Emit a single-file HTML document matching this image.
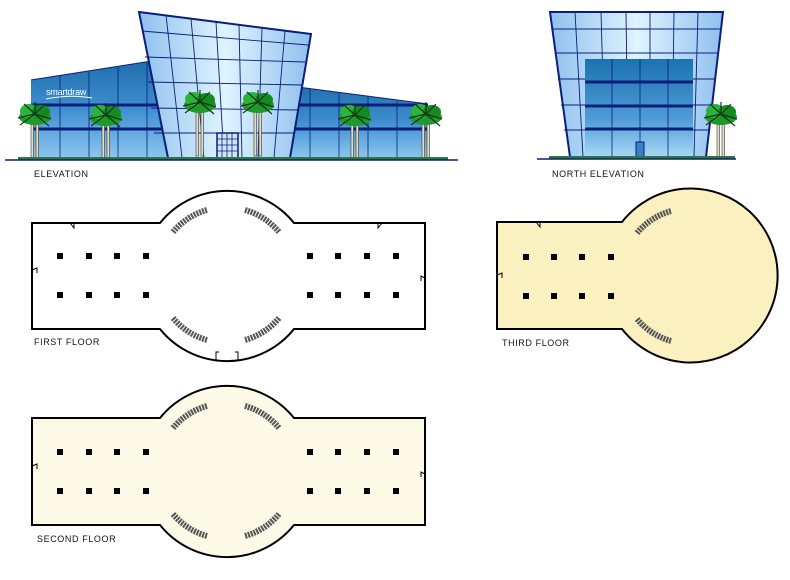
<!DOCTYPE html>
<html><head><meta charset="utf-8"><style>
html,body{margin:0;padding:0;background:#fff;}
svg{display:block;}
text{font-family:"Liberation Sans",sans-serif;font-size:9px;letter-spacing:0.6px;fill:#111;}
</style></head><body>
<svg width="790" height="580" viewBox="0 0 790 580" xmlns="http://www.w3.org/2000/svg">
<defs>
<linearGradient id="wing" x1="0" y1="0" x2="0" y2="1">
<stop offset="0" stop-color="#1f6fae"/><stop offset="0.5" stop-color="#3f8fd0"/><stop offset="1" stop-color="#8cc6f0"/></linearGradient>
<linearGradient id="tower" x1="0" y1="0" x2="1" y2="0">
<stop offset="0" stop-color="#8fc0ee"/><stop offset="0.5" stop-color="#dff4ff"/><stop offset="1" stop-color="#8fc0ee"/></linearGradient>
<linearGradient id="inner" x1="0" y1="0" x2="0" y2="1">
<stop offset="0" stop-color="#1a72b0"/><stop offset="0.6" stop-color="#4d9bd6"/><stop offset="1" stop-color="#a8d8f5"/></linearGradient>
<g id="crown">
<ellipse cx="0" cy="-3" rx="16" ry="8" fill="#1f9a2a"/>
<ellipse cx="-6" cy="-9" rx="9" ry="7" fill="#2bb43a"/>
<ellipse cx="6" cy="-8" rx="9" ry="7" fill="#158a20"/>
<path d="M0 -6 L-17 -2 M0 -6 L16 -1 M0 -6 L-11 -16 M0 -6 L10 -16 M0 -6 L0 -18 M0 -6 L-15 5 M0 -6 L14 6" stroke="#17371b" stroke-width="1.2"/>
</g>
<g id="palm">
<rect x="-4" y="0" width="2.5" height="48" fill="#e8dcc0" stroke="#333" stroke-width="0.6"/>
<rect x="1" y="2" width="2.5" height="46" fill="#e8dcc0" stroke="#333" stroke-width="0.6"/>
<use href="#crown"/>
</g>
<g id="palmS">
<rect x="-4" y="0" width="2.5" height="38" fill="#e8dcc0" stroke="#333" stroke-width="0.6"/>
<rect x="1" y="2" width="2.5" height="36" fill="#e8dcc0" stroke="#333" stroke-width="0.6"/>
<use href="#crown"/>
</g>
</defs>

<!-- ELEVATION -->
<polygon points="31,80 152,61 170,158 31,158" fill="url(#wing)"/>
<polygon points="290,86 428,104 428,158 290,158" fill="url(#wing)"/>
<g stroke="#0a1e7a" stroke-width="1">
<line x1="31" y1="80" x2="152" y2="61"/><line x1="290" y1="86" x2="428" y2="104"/>
<line x1="31" y1="105" x2="165" y2="105" stroke-width="3"/><line x1="31" y1="129" x2="168" y2="129" stroke-width="3"/>
<line x1="290" y1="105" x2="428" y2="105" stroke-width="3"/><line x1="290" y1="129" x2="428" y2="129" stroke-width="3"/>
<path d="M60 76V158M89 72V158M118 67V158M147 62V158M310 89V158M339 93V158M368 97V158M397 101V158" stroke-width="0.8"/>
</g>
<text x="46" y="95" style="font-size:9px;fill:#fff;letter-spacing:-0.2px">smartdraw</text>
<path d="M46 99 Q70 94 92 98" stroke="#fff" fill="none" stroke-width="1"/>
<polygon points="139,12 311,34 290,158 168,158" fill="url(#tower)" stroke="#0a1e7a" stroke-width="2"/>
<g stroke="#0a1e7a" stroke-width="0.9" fill="none">
<path d="M142 31L308 45M145 57L305 62M148 82L302 85M151 108L299 110M154 133L295 133"/>
<path d="M166 15L182 158M191 19L204 158M216 22L224 158M239 25L242 158M262 28L258 158M285 31L274 158"/>
</g>
<rect x="217" y="133" width="21" height="25" fill="#cfe6fa" stroke="#0a1e7a" stroke-width="1.5"/>
<path d="M217 139h21M217 145h21M217 151h21M222 133v25M227 133v25M232 133v25" stroke="#0a1e7a" stroke-width="0.8"/>
<use href="#palmS" x="35" y="120"/>
<use href="#palmS" x="106" y="121"/>
<use href="#palm" x="200" y="108"/>
<use href="#palm" x="258" y="108"/>
<use href="#palmS" x="355" y="121"/>
<use href="#palmS" x="426" y="120"/>
<rect x="18" y="157" width="430" height="3" fill="#2d7a36"/>
<line x1="5" y1="160" x2="458" y2="160" stroke="#0a1e7a" stroke-width="1.5"/>
<text x="34" y="177">ELEVATION</text>

<!-- NORTH ELEVATION -->
<polygon points="550,12 723,12 706,157 570,157" fill="url(#tower)" stroke="#0a1e7a" stroke-width="2"/>
<g stroke="#0a1e7a" stroke-width="0.9" fill="none">
<path d="M553 29H721M555 53H718M558 79H716M561 105H712M564 130H709"/>
<path d="M575 12L583 157M601 12L605 157M626 12L628 157M650 12L650 157M674 12L672 157M698 12L694 157"/>
</g>
<rect x="585" y="59" width="108" height="98" fill="url(#inner)"/>
<path d="M585 82H693M585 106H693M585 129H693" stroke="#0a1e7a" stroke-width="3"/>
<path d="M612 59V157M640 59V157M668 59V157" stroke="#0a1e7a" stroke-width="0.8"/>
<rect x="636" y="142" width="8" height="15" fill="#3b7fc4" stroke="#0a1e7a"/>
<use href="#palmS" x="721" y="120"/>
<rect x="549" y="156" width="186" height="3" fill="#2d7a36"/>
<line x1="537" y1="159" x2="736" y2="159" stroke="#0a1e7a" stroke-width="1.5"/>
<text x="552" y="177">NORTH ELEVATION</text>

<!-- FIRST FLOOR -->
<path d="M32 223H160A86 86 0 0 1 294 223H425V329H294A86 86 0 0 1 160 329H32Z" fill="#fff" stroke="#000" stroke-width="2"/>
<g fill="#000">
<rect x="57" y="253" width="6" height="6"/><rect x="86" y="253" width="6" height="6"/><rect x="114" y="253" width="6" height="6"/><rect x="143" y="253" width="6" height="6"/>
<rect x="307" y="253" width="6" height="6"/><rect x="335" y="253" width="6" height="6"/><rect x="364" y="253" width="6" height="6"/><rect x="393" y="253" width="6" height="6"/>
<rect x="57" y="292" width="6" height="6"/><rect x="86" y="292" width="6" height="6"/><rect x="114" y="292" width="6" height="6"/><rect x="143" y="292" width="6" height="6"/>
<rect x="307" y="292" width="6" height="6"/><rect x="335" y="292" width="6" height="6"/><rect x="364" y="292" width="6" height="6"/><rect x="393" y="292" width="6" height="6"/>
</g>
<path d="M173 232A68 68 0 0 1 207 210M245 210A68 68 0 0 1 279 232M279 318A68 68 0 0 1 245 340M207 340A68 68 0 0 1 173 318" fill="none" stroke="#555" stroke-width="6" stroke-dasharray="2 1"/>
<path d="M74 223v5l-4 -5M378 223v5l4 -5M32 270l5 -2v5M425 278l-4 -2v5M216 360v-8h3M238 360v-8h-3" fill="none" stroke="#000" stroke-width="1"/>
<text x="34" y="345">FIRST FLOOR</text>

<!-- SECOND FLOOR -->
<path d="M32 418H160A86 86 0 0 1 294 418H425V525H294A86 86 0 0 1 160 525H32Z" fill="#fcfae6" stroke="#000" stroke-width="2"/>
<g fill="#000">
<rect x="57" y="449" width="6" height="6"/><rect x="86" y="449" width="6" height="6"/><rect x="114" y="449" width="6" height="6"/><rect x="143" y="449" width="6" height="6"/>
<rect x="307" y="449" width="6" height="6"/><rect x="335" y="449" width="6" height="6"/><rect x="364" y="449" width="6" height="6"/><rect x="393" y="449" width="6" height="6"/>
<rect x="57" y="488" width="6" height="6"/><rect x="86" y="488" width="6" height="6"/><rect x="114" y="488" width="6" height="6"/><rect x="143" y="488" width="6" height="6"/>
<rect x="307" y="488" width="6" height="6"/><rect x="335" y="488" width="6" height="6"/><rect x="364" y="488" width="6" height="6"/><rect x="393" y="488" width="6" height="6"/>
</g>
<path d="M173 428A68 68 0 0 1 207 406M245 406A68 68 0 0 1 279 428M279 514A68 68 0 0 1 245 536M207 536A68 68 0 0 1 173 514" fill="none" stroke="#555" stroke-width="6" stroke-dasharray="2 1"/>
<path d="M32 466l5 -2v5M425 474l-4 -2v5" fill="none" stroke="#000" stroke-width="1"/>
<text x="37" y="542">SECOND FLOOR</text>

<!-- THIRD FLOOR -->
<path d="M497 222H622A87 87 0 1 1 622 329H497Z" fill="#fbf0c0" stroke="#000" stroke-width="2"/>
<g fill="#000">
<rect x="523" y="254" width="6" height="6"/><rect x="551" y="254" width="6" height="6"/><rect x="579" y="254" width="6" height="6"/><rect x="608" y="254" width="6" height="6"/>
<rect x="523" y="293" width="6" height="6"/><rect x="551" y="293" width="6" height="6"/><rect x="579" y="293" width="6" height="6"/><rect x="608" y="293" width="6" height="6"/>
</g>
<path d="M637 233A68 68 0 0 1 671 211M671 341A68 68 0 0 1 637 319" fill="none" stroke="#555" stroke-width="6" stroke-dasharray="2 1"/>
<path d="M540 222v5l-4 -5M497 275l5 -2v5" fill="none" stroke="#000" stroke-width="1"/>
<text x="502" y="346">THIRD FLOOR</text>
</svg>
</body></html>
